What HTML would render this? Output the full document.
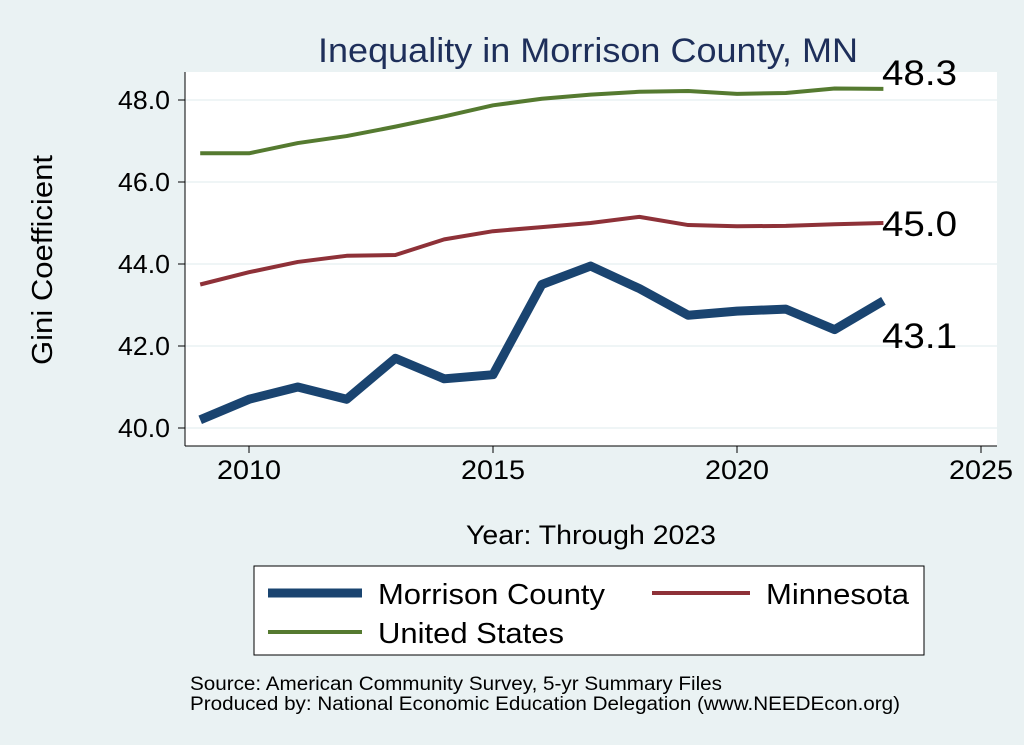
<!DOCTYPE html>
<html><head><meta charset="utf-8"><style>
body{margin:0;background:#eaf2f3;}
svg{display:block;font-family:"Liberation Sans",Arial,sans-serif;}
</style></head><body>
<svg width="1024" height="745">
<rect x="0" y="0" width="1024" height="745" fill="#eaf2f3"/>
<rect x="185" y="72" width="812" height="374" fill="#fff"/>
<text x="318" y="62" textLength="540" lengthAdjust="spacingAndGlyphs" font-size="34" fill="#1e2f5a">Inequality in Morrison County, MN</text>
<g id="grid"></g><g id="axes"></g><g id="series"></g>
<text transform="translate(52,365) rotate(-90)" textLength="210" lengthAdjust="spacingAndGlyphs" font-size="29" fill="#000">Gini Coefficient</text>
<text x="466" y="544" textLength="250" lengthAdjust="spacingAndGlyphs" font-size="27" fill="#000">Year: Through 2023</text>
<g>
<rect x="254" y="566" width="670" height="89" fill="#fff" stroke="#000" stroke-width="1"/>
<line x1="268" y1="593" x2="362" y2="593" stroke="#1a4470" stroke-width="9"/>
<text x="378" y="604" textLength="227" lengthAdjust="spacingAndGlyphs" font-size="29">Morrison County</text>
<line x1="652" y1="593" x2="750" y2="593" stroke="#8e3138" stroke-width="4"/>
<text x="766" y="604" textLength="143" lengthAdjust="spacingAndGlyphs" font-size="29">Minnesota</text>
<line x1="268" y1="632" x2="362" y2="632" stroke="#557a30" stroke-width="4"/>
<text x="378" y="643" textLength="186" lengthAdjust="spacingAndGlyphs" font-size="29">United States</text>
</g>
<text x="190" y="690" textLength="532" lengthAdjust="spacingAndGlyphs" font-size="19">Source: American Community Survey, 5-yr Summary Files</text>
<text x="190" y="710" textLength="710" lengthAdjust="spacingAndGlyphs" font-size="19">Produced by: National Economic Education Delegation (www.NEEDEcon.org)</text>
</svg>
<script>
const years=[2009,2010,2011,2012,2013,2014,2015,2016,2017,2018,2019,2020,2021,2022,2023];
const morrison=[40.2,40.7,41.0,40.7,41.7,41.2,41.3,43.5,43.95,43.4,42.75,42.85,42.9,42.4,43.1];
const minnesota=[43.5,43.8,44.05,44.2,44.22,44.6,44.8,44.9,45.0,45.15,44.95,44.92,44.93,44.97,45.0];
const us=[46.7,46.7,46.95,47.12,47.35,47.6,47.87,48.03,48.13,48.2,48.22,48.15,48.17,48.28,48.27];
const yTicks=[40,42,44,46,48];
const xTicks=[2010,2015,2020,2025];
const ns="http://www.w3.org/2000/svg";
const X=v=>249+(v-2010)*48.8;
const Y=v=>428-(v-40)*41;
function mk(t,a,p){const e=document.createElementNS(ns,t);for(const k in a)e.setAttribute(k,a[k]);document.getElementById(p).appendChild(e);return e;}
let ax=mk('line',{x1:185,y1:72,x2:185,y2:446,stroke:'#000'},'axes');


ax=mk('line',{x1:185,y1:446,x2:997,y2:446,stroke:'#000'},'axes');


yTicks.forEach(v=>{
 const g=mk('line',{x1:185,x2:997,y1:Y(v),y2:Y(v),stroke:'#eaf2f3','stroke-width':1.5},'grid');
 
 
 mk('line',{x1:178,x2:185,y1:Y(v),y2:Y(v),stroke:'#000'},'axes');
 const t=mk('text',{x:170,y:Y(v)+9,'text-anchor':'end','font-size':26,textLength:52,lengthAdjust:'spacingAndGlyphs'},'axes');
 t.textContent=v.toFixed(1);
 
 
});
xTicks.forEach(v=>{
 mk('line',{x1:X(v),x2:X(v),y1:446,y2:453,stroke:'#000'},'axes');
 const t=mk('text',{x:X(v)-32,y:479,'font-size':27,textLength:64,lengthAdjust:'spacingAndGlyphs'},'axes');
 t.textContent=v;
 
 
});
function line(d,c,w,name,ly){
 const p=mk('polyline',{points:d.map((v,i)=>X(years[i])+','+Y(v)).join(' '),fill:'none',stroke:c,'stroke-width':w,'stroke-linejoin':'round'},'series');
 
 
 const last=d[d.length-1];
 const t=mk('text',{x:882,y:Y(last)+ly,'font-size':35,textLength:75,lengthAdjust:'spacingAndGlyphs'},'series');
 t.textContent=last.toFixed(1);
 
 
}
line(us,'#557a30',4,'line-united-states',-4);
line(minnesota,'#8e3138',4,'line-minnesota',13);
line(morrison,'#1a4470',9,'line-morrison',47);
</script>
</body></html>
